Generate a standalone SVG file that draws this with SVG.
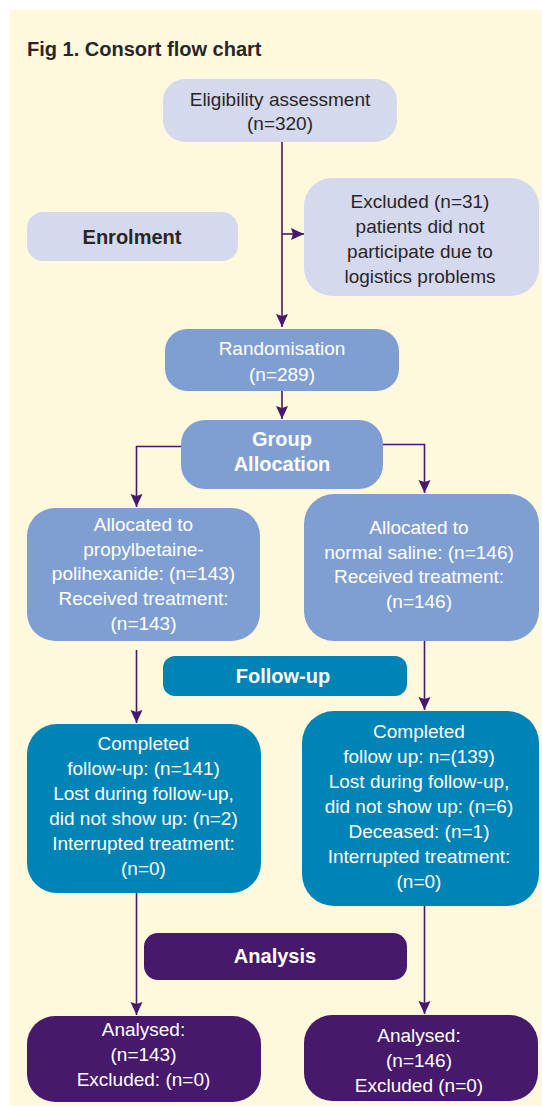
<svg xmlns="http://www.w3.org/2000/svg" width="542" height="1106" viewBox="0 0 542 1106">
<defs>
<marker id="ah" markerUnits="userSpaceOnUse" markerWidth="14" markerHeight="14" viewBox="0 0 14 14" refX="13" refY="7" orient="auto">
<path d="M0,1 L13,7 L0,13 L2,7 Z" fill="#46196b"/>
</marker>
<style>
.t{font-family:"Liberation Sans",Arial,sans-serif;font-size:19px;text-anchor:middle}
.b{font-family:"Liberation Sans",Arial,sans-serif;font-size:20px;font-weight:bold;text-anchor:middle}
.dk{fill:#2a2627}
.wh{fill:#ffffff}
.lav{fill:#d4d9ed}
.blu{fill:#7f9fd3}
.tea{fill:#0083b5}
.pur{fill:#46196b}
.c{fill:none;stroke:#46196b;stroke-width:1.6;marker-end:url(#ah)}
</style>
</defs>
<rect x="10" y="10" width="532" height="1096" fill="#fef9dd"/>
<text x="27" y="56" font-family="Liberation Sans, Arial, sans-serif" font-size="20" font-weight="bold" fill="#2a2627">Fig 1. Consort flow chart</text>

<g id="connectors">
<path class="c" d="M282,142 V327"/>
<path class="c" d="M282,234 H304"/>
<path class="c" d="M282,391 V419"/>
<path class="c" d="M181,446.5 H136.5 V507"/>
<path class="c" d="M383,444.5 H424.5 V493"/>
<path class="c" d="M136.5,650 V723"/>
<path class="c" d="M424.5,630 V710"/>
<path class="c" d="M136.5,893 V1015"/>
<path class="c" d="M424.5,906 V1014"/>
</g>

<g id="eligibility">
<rect class="lav" x="163" y="79" width="234" height="63" rx="22"/>
<text class="t dk" x="280" y="106">Eligibility assessment</text>
<text class="t dk" x="280" y="130">(n=320)</text>
</g>
<g id="enrolment">
<rect class="lav" x="27" y="212" width="211" height="49" rx="16"/>
<text class="b dk" x="132" y="244">Enrolment</text>
</g>
<g id="excluded">
<rect class="lav" x="304" y="178" width="235" height="118" rx="28"/>
<text class="t dk" x="420" y="208">Excluded (n=31)</text>
<text class="t dk" x="420" y="233">patients did not</text>
<text class="t dk" x="420" y="258">participate due to</text>
<text class="t dk" x="420" y="283">logistics problems</text>
</g>
<g id="randomisation">
<rect class="blu" x="165" y="329" width="234" height="62" rx="22"/>
<text class="t wh" x="282" y="355">Randomisation</text>
<text class="t wh" x="282" y="381">(n=289)</text>
</g>
<g id="group-allocation">
<rect class="blu" x="181" y="420" width="202" height="69" rx="24"/>
<text class="b wh" x="282" y="446">Group</text>
<text class="b wh" x="282" y="471">Allocation</text>
</g>
<g id="allocated-left">
<rect class="blu" x="27" y="508" width="233" height="133" rx="28"/>
<text class="t wh" x="143.5" y="531">Allocated to</text>
<text class="t wh" x="143.5" y="556">propylbetaine-</text>
<text class="t wh" x="143.5" y="580">polihexanide: (n=143)</text>
<text class="t wh" x="143.5" y="605">Received treatment:</text>
<text class="t wh" x="143.5" y="630">(n=143)</text>
</g>
<g id="allocated-right">
<rect class="blu" x="304" y="494" width="235" height="147" rx="30"/>
<text class="t wh" x="419" y="534">Allocated to</text>
<text class="t wh" x="419" y="559">normal saline: (n=146)</text>
<text class="t wh" x="419" y="583">Received treatment:</text>
<text class="t wh" x="419" y="608">(n=146)</text>
</g>
<g id="follow-up">
<rect class="tea" x="163" y="656" width="244" height="40" rx="12"/>
<text class="b wh" x="283" y="683">Follow-up</text>
</g>
<g id="completed-left">
<rect class="tea" x="27" y="724" width="234" height="169" rx="30"/>
<text class="t wh" x="143.5" y="750">Completed</text>
<text class="t wh" x="143.5" y="775">follow-up: (n=141)</text>
<text class="t wh" x="143.5" y="800">Lost during follow-up,</text>
<text class="t wh" x="143.5" y="825">did not show up: (n=2)</text>
<text class="t wh" x="143.5" y="850">Interrupted treatment:</text>
<text class="t wh" x="143.5" y="875">(n=0)</text>
</g>
<g id="completed-right">
<rect class="tea" x="302" y="711" width="237" height="195" rx="32"/>
<text class="t wh" x="419" y="738">Completed</text>
<text class="t wh" x="419" y="763">follow up: n=(139)</text>
<text class="t wh" x="419" y="788">Lost during follow-up,</text>
<text class="t wh" x="419" y="813">did not show up: (n=6)</text>
<text class="t wh" x="419" y="838">Deceased: (n=1)</text>
<text class="t wh" x="419" y="863">Interrupted treatment:</text>
<text class="t wh" x="419" y="888">(n=0)</text>
</g>
<g id="analysis">
<rect class="pur" x="144" y="933" width="263" height="47" rx="14"/>
<text class="b wh" x="275" y="963">Analysis</text>
</g>
<g id="analysed-left">
<rect class="pur" x="27" y="1016" width="234" height="86" rx="28"/>
<text class="t wh" x="143.5" y="1036">Analysed:</text>
<text class="t wh" x="143.5" y="1061">(n=143)</text>
<text class="t wh" x="143.5" y="1086">Excluded: (n=0)</text>
</g>
<g id="analysed-right">
<rect class="pur" x="304" y="1015" width="234" height="86" rx="28"/>
<text class="t wh" x="419" y="1042">Analysed:</text>
<text class="t wh" x="419" y="1067">(n=146)</text>
<text class="t wh" x="419" y="1092">Excluded (n=0)</text>
</g>
</svg>
